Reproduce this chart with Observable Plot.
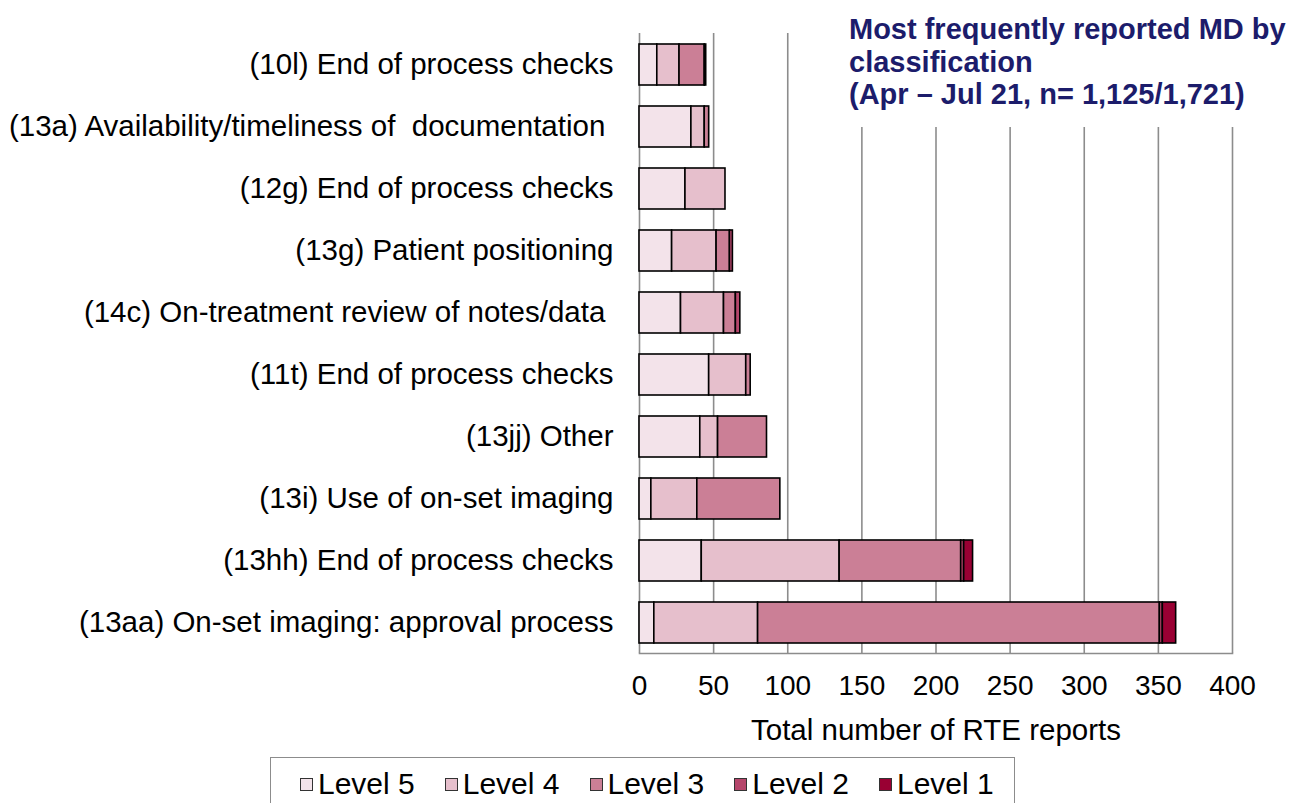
<!DOCTYPE html>
<html>
<head>
<meta charset="utf-8">
<script src="https://cdn.jsdelivr.net/npm/d3@7"></script>
<script src="https://cdn.jsdelivr.net/npm/@observablehq/plot@0.6"></script>
<style>
  html, body { margin: 0; padding: 0; background: #fff; }
  body { width: 1295px; height: 803px; position: relative; overflow: hidden; font-family: "Liberation Sans", Arial, sans-serif; }
  #chart { position: absolute; left: 0; top: 0; }
  #chart svg { white-space: pre; }
  #title { position: absolute; left: 849px; top: 13px; width: 446px; height: 114px; background: #fff;
    color: #1c1c6b; font-weight: bold; font-size: 29px; line-height: 32.5px; white-space: nowrap; }
  #legend { position: absolute; left: 270px; top: 757px; width: 745px; height: 60px; border: 1.5px solid #8c8c8c;
    box-sizing: border-box; display: flex; align-items: flex-start; padding-top: 9px; padding-left: 29px;
    gap: 30px; white-space: nowrap; }
  .item { display: flex; align-items: center; font-size: 30px; color: #000; flex-shrink: 0; white-space: nowrap; }
  .sw { width: 11px; height: 11px; border: 1.5px solid #333; margin-right: 5px; flex-shrink: 0; }
</style>
</head>
<body>
<div id="chart"></div>
<div id="title">Most frequently reported MD by<br>classification<br>(Apr – Jul 21, n= 1,125/1,721)</div>
<div id="legend"></div>
<script>
const categories = [
  "(10l) End of process checks",
  "(13a) Availability/timeliness of  documentation ",
  "(12g) End of process checks",
  "(13g) Patient positioning",
  "(14c) On-treatment review of notes/data ",
  "(11t) End of process checks",
  "(13jj) Other",
  "(13i) Use of on-set imaging",
  "(13hh) End of process checks",
  "(13aa) On-set imaging: approval process"
];
const levels = ["Level 5", "Level 4", "Level 3", "Level 2", "Level 1"];
const level5 = [12, 35, 31, 22, 28, 47, 41, 8, 42, 10];
const level4 = [15, 9, 27, 30, 29, 25, 12, 31, 93, 70];
const level3 = [17, 3, 0, 9, 8, 3, 33, 56, 82, 271];
const level2 = [1, 0, 0, 2, 3, 0, 0, 0, 2, 2];
const level1 = [0, 0, 0, 0, 0, 0, 0, 0, 6, 9];
const xTicks = [0, 50, 100, 150, 200, 250, 300, 350, 400];
const colors = ["#f3e3ea", "#e6bfcc", "#cb7f96", "#b5466b", "#990033"];

const series = [level5, level4, level3, level2, level1];
const rows = [];
series.forEach((vals, li) => {
  vals.forEach((v, ci) => {
    if (v > 0) rows.push({category: categories[ci], level: levels[li], value: v});
  });
});

const plot = Plot.plot({
  width: 1295,
  height: 750,
  marginLeft: 639,
  marginRight: 63,
  marginTop: 33,
  marginBottom: 97,
  style: {fontFamily: "Liberation Sans, Arial, sans-serif", color: "#000", background: "#fff"},
  x: {domain: [0, 400], ticks: xTicks},
  y: {domain: categories, paddingInner: 0.34, paddingOuter: 0.17},
  color: {domain: levels, range: colors},
  marks: [
    Plot.ruleX(xTicks, {stroke: "#8c8c8c", strokeWidth: 1.6}),
    Plot.frame({anchor: "bottom", stroke: "#8c8c8c", strokeWidth: 1.6}),
    Plot.barX(rows, Plot.stackX({y: "category", x: "value", fill: "level", stroke: "#000", strokeWidth: 1.6, order: levels})),
    Plot.axisX({ticks: xTicks, tickSize: 0, tickPadding: 22, fontSize: 28, label: null}),
    Plot.axisY({tickSize: 0, tickPadding: 26, fontSize: 29.5, label: null}),
    Plot.text(["Total number of RTE reports"], {frameAnchor: "bottom", x: 200, dy: 86, fontSize: 29.5, fill: "#000"})
  ]
});
document.getElementById("chart").appendChild(plot);

const legend = document.getElementById("legend");
levels.forEach((lv, i) => {
  const it = document.createElement("div");
  it.className = "item";
  const sw = document.createElement("div");
  sw.className = "sw";
  sw.style.background = colors[i];
  it.appendChild(sw);
  it.appendChild(document.createTextNode(lv));
  legend.appendChild(it);
});
</script>
</body>
</html>
